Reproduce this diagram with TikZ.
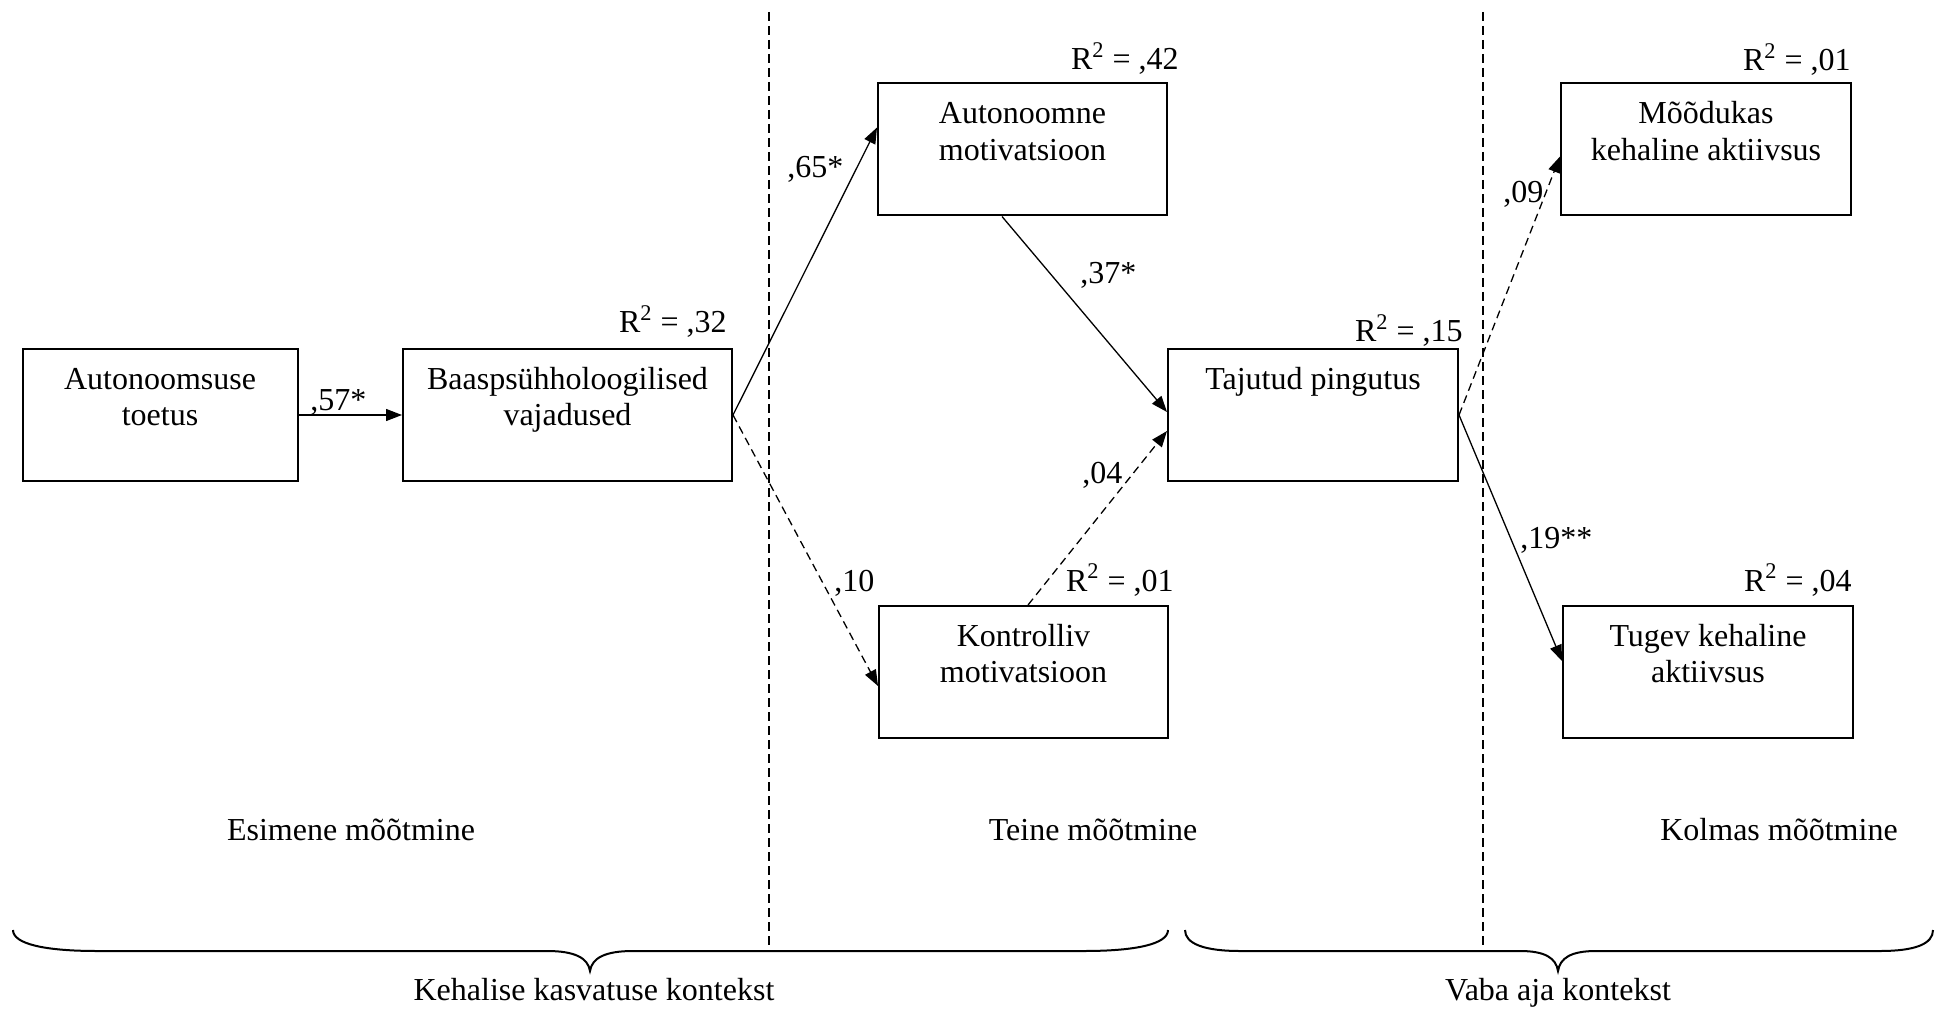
\documentclass[tikz,border=0pt]{standalone}
\usepackage{fontspec}
\setmainfont{Liberation Serif}
\usetikzlibrary{arrows.meta,calc}
\begin{document}
\begin{tikzpicture}[x=0.5pt,y=-0.5pt,
  font=\fontsize{16}{18.3}\selectfont,
  box/.style={draw, line width=1pt, inner sep=0pt, minimum height=66pt},
  boxtxt/.style={anchor=base, align=center, inner sep=0pt},
  rsq/.style={anchor=base east, inner sep=0pt},
  elab/.style={anchor=base west, inner sep=0pt},
  arr/.style={line width=0.65pt, -{Triangle[length=8pt,width=6pt]}},
  dsh/.style={dash pattern=on 4pt off 2.5pt},
  sep/.style={line width=0.7pt, dash pattern=on 4.5pt off 2.5pt},
  brace/.style={line width=1pt},
  note/.style={anchor=base, inner sep=0pt}]
\useasboundingbox (0,0) rectangle (1936,1010);

% separators
\coordinate (v1t) at (769,12);
\coordinate (v1b) at (769,950);
\coordinate (v2t) at (1483,12);
\coordinate (v2b) at (1483,950);
\draw[sep] (v1t) -- (v1b);
\draw[sep] (v2t) -- (v2b);

% boxes
\node[box, minimum width=137.5pt, fill=white] (b1) at (160,415) {};
\node[box, minimum width=164.5pt, fill=white] (b2) at (567.5,415) {};
\node[box, minimum width=144.5pt, fill=white] (b3) at (1022.5,149.5) {};
\node[box, minimum width=145pt, fill=white] (b4) at (1313,415) {};
\node[box, minimum width=144.5pt, fill=white] (b5) at (1023.5,672) {};
\node[box, minimum width=145pt, fill=white] (b6) at (1706,149.5) {};
\node[box, minimum width=145pt, fill=white] (b7) at (1708,672) {};

% box texts (base anchor = last line's baseline)
\node[boxtxt] (t1) at ($(b1.north)+(0,77.6)$) {Autonoomsuse\\toetus};
\node[boxtxt] (t2) at ($(b2.north)+(0,77.6)$) {Baaspsühholoogilised\\vajadused};
\node[boxtxt] (t3) at ($(b3.north)+(0,77.6)$) {Autonoomne\\motivatsioon};
\node[boxtxt] (t4) at ($(b4.north)+(0,41)$) {Tajutud pingutus};
\node[boxtxt] (t5) at ($(b5.north)+(0,77.6)$) {Kontrolliv\\motivatsioon};
\node[boxtxt] (t6) at ($(b6.north)+(0,77.6)$) {Mõõdukas\\kehaline aktiivsus};
\node[boxtxt] (t7) at ($(b7.north)+(0,77.6)$) {Tugev kehaline\\aktiivsus};

% R squared
\node[rsq] (r2) at (727,333) {R\textsuperscript{2} = ,32};
\node[rsq] (r3) at (1179,70) {R\textsuperscript{2} = ,42};
\node[rsq] (r4) at (1463,342) {R\textsuperscript{2} = ,15};
\node[rsq] (r5) at (1174,591) {R\textsuperscript{2} = ,01};
\node[rsq] (r6) at (1851,71) {R\textsuperscript{2} = ,01};
\node[rsq] (r7) at (1852,591) {R\textsuperscript{2} = ,04};

% paths
\draw[arr] (b1.east) -- (b2.west);
\draw[arr] (b2.east) -- ($(b3.north west)+(0,45)$);
\draw[arr,dsh] (b2.east) -- ($(b5.north west)+(0,81)$);
\draw[arr] ($(b3.south west)+(125,0)$) -- ($(b4.north west)+(0,64)$);
\draw[arr,dsh] ($(b5.north west)+(150,0)$) -- ($(b4.north west)+(0,83)$);
\draw[arr,dsh] (b4.east) -- ($(b6.north west)+(0,74)$);
\draw[arr] (b4.east) -- ($(b7.north west)+(0,56)$);

% path labels
\node[elab] (l57) at (310,410) {,57*};
\node[elab] (l65) at (787,178) {,65*};
\node[elab] (l10) at (834,591) {,10};
\node[elab] (l37) at (1080,284) {,37*};
\node[elab] (l04) at (1082,483) {,04};
\node[elab] (l09) at (1503,203) {,09};
\node[elab] (l19) at (1520,548) {,19**};

% measurement labels
\node[note] (m1) at (351,840) {Esimene mõõtmine};
\node[note] (m2) at (1093,840) {Teine mõõtmine};
\node[note] (m3) at (1779,840) {Kolmas mõõtmine};

% braces
\draw[brace] (13,930) .. controls (13,944) and (45,951) .. (97,951) -- (547,951)
  .. controls (575,951) and (588,958) .. (590,971)
  .. controls (592,958) and (605,951) .. (633,951) -- (1084,951)
  .. controls (1136,951) and (1168,944) .. (1168,930);
\draw[brace] (1185,930) .. controls (1185,944) and (1205,951) .. (1240,951) -- (1520,951)
  .. controls (1545,951) and (1556,958) .. (1558,971)
  .. controls (1560,958) and (1571,951) .. (1596,951) -- (1880,951)
  .. controls (1915,951) and (1933,944) .. (1933,930);

\node[note] (c1) at (594,1000) {Kehalise kasvatuse kontekst};
\node[note] (c2) at (1558,1000) {Vaba aja kontekst};
\end{tikzpicture}
\end{document}
